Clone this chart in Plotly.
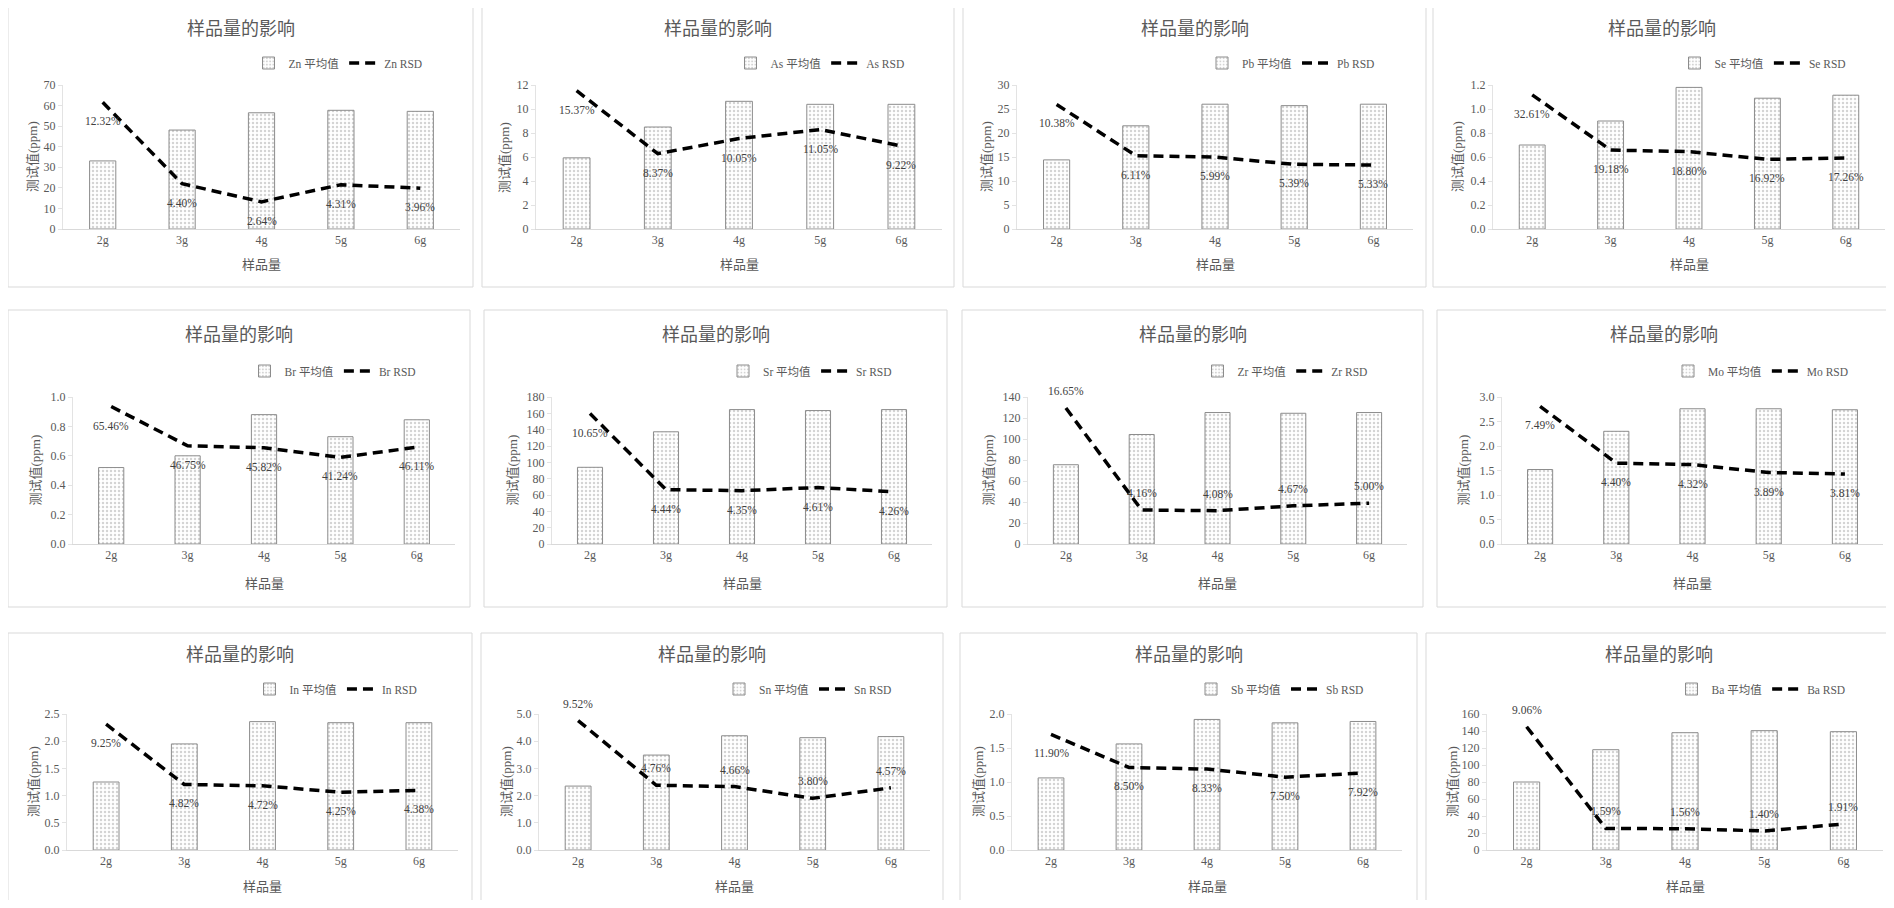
import plotly.graph_objects as go

# ---------------- data ----------------
categories = ["2g", "3g", "4g", "5g", "6g"]
elements = ["Zn", "As", "Pb", "Se", "Br", "Sr", "Zr", "Mo", "In", "Sn", "Sb", "Ba"]

mean_Zn = [33.1, 48.1, 56.5, 57.7, 57.2]
mean_As = [5.93, 8.50, 10.64, 10.39, 10.39]
mean_Pb = [14.4, 21.5, 26.0, 25.7, 26.0]
mean_Se = [0.70, 0.90, 1.18, 1.09, 1.115]
mean_Br = [0.52, 0.60, 0.88, 0.73, 0.845]
mean_Sr = [93.9, 137.4, 164.6, 163.4, 164.6]
mean_Zr = [75.5, 104.3, 125.2, 124.5, 125.2]
mean_Mo = [1.52, 2.30, 2.76, 2.76, 2.74]
mean_In = [1.25, 1.95, 2.36, 2.34, 2.34]
mean_Sn = [2.35, 3.49, 4.20, 4.13, 4.17]
mean_Sb = [1.06, 1.56, 1.92, 1.87, 1.89]
mean_Ba = [80.0, 118.0, 138.0, 140.4, 139.2]

rsd_Zn = [12.32, 4.40, 2.64, 4.31, 3.96]
rsd_As = [15.37, 8.37, 10.05, 11.05, 9.22]
rsd_Pb = [10.38, 6.11, 5.99, 5.39, 5.33]
rsd_Se = [32.61, 19.18, 18.80, 16.92, 17.26]
rsd_Br = [65.46, 46.75, 45.82, 41.24, 46.11]
rsd_Sr = [10.65, 4.44, 4.35, 4.61, 4.26]
rsd_Zr = [16.65, 4.16, 4.08, 4.67, 5.00]
rsd_Mo = [7.49, 4.40, 4.32, 3.89, 3.81]
rsd_In = [9.25, 4.82, 4.72, 4.25, 4.38]
rsd_Sn = [9.52, 4.76, 4.66, 3.80, 4.57]
rsd_Sb = [11.90, 8.50, 8.33, 7.50, 7.92]
rsd_Ba = [9.06, 1.59, 1.56, 1.40, 1.91]

means = [mean_Zn, mean_As, mean_Pb, mean_Se, mean_Br, mean_Sr,
         mean_Zr, mean_Mo, mean_In, mean_Sn, mean_Sb, mean_Ba]
rsds = [rsd_Zn, rsd_As, rsd_Pb, rsd_Se, rsd_Br, rsd_Sr,
        rsd_Zr, rsd_Mo, rsd_In, rsd_Sn, rsd_Sb, rsd_Ba]

# axis scales (primary axis max / tick step, hidden secondary axis max in %)
y_max = [70, 12, 30, 1.2, 1.0, 180, 140, 3.0, 2.5, 5.0, 2.0, 160]
y_dtick = [10, 2, 5, 0.2, 0.2, 20, 20, 0.5, 0.5, 1.0, 0.5, 20]
y_fmt = ["d", "d", "d", ".1f", ".1f", "d", "d", ".1f", ".1f", ".1f", ".1f", "d"]
rsd_axis_max = [14, 16, 12, 35, 70, 12, 18, 8, 10, 10, 14, 10]

title_text = "样品量的影响"
x_title = "样品量"
y_title = "测试值(ppm)"

# ---------------- layout geometry (reference pixels) ----------------
W, H = 1878, 892
OFF = 8


def px(x):
    return (x - OFF) / W


def py(y):
    return 1 - (y - OFF) / H


rows = [
    dict(top=7, bottom=287, title=27, legend=63, ptop=85, pbot=229, xlab=264),
    dict(top=310, bottom=607, title=333, legend=371, ptop=397, pbot=544, xlab=582),
    dict(top=633, bottom=930, title=653, legend=689, ptop=714, pbot=850, xlab=885),
]
borders = [(8, 473), (482, 954), (963, 1426), (1433, 1891),
           (8, 470), (484, 947), (962, 1423), (1437, 1891),
           (8, 472), (481, 943), (960, 1417), (1426, 1891)]
plots = [(63, 460), (536, 942), (1017, 1413), (1493, 1885),
         (73, 455), (552, 932), (1028, 1407), (1502, 1883),
         (67, 458), (539, 930), (1012, 1402), (1487, 1883)]
ytitle_x = [33, 505, 987, 1458, 35, 512, 988, 1463, 33, 506, 978, 1452]
labels_above = [False] * 12
for k in (6, 9, 11):
    labels_above[k] = True

GREY_TXT = "#595959"
SERIF = "Liberation Serif, Times New Roman, Noto Sans CJK SC, serif"
CJK = "Noto Sans CJK SC, sans-serif"

fig = go.Figure()
shapes = []
annotations = []
layout_axes = {}

for i, el in enumerate(elements):
    n = i + 1
    r = rows[i // 4]
    bl, br_ = borders[i]
    pl, pr = plots[i]
    xa = "x" if n == 1 else f"x{n}"
    ya = "y" if n == 1 else f"y{n}"
    ya2 = f"y{n + 12}"
    lg = "legend" if n == 1 else f"legend{n}"

    fig.add_trace(go.Bar(
        x=categories, y=means[i], name=f"{el} 平均值",
        xaxis=xa, yaxis=ya, legend=lg, width=0.33,
        marker=dict(color="white",
                    line=dict(color="#8c8c8c", width=1),
                    pattern=dict(shape=".", fgcolor="#a8a8a8", bgcolor="white",
                                 size=4, solidity=0.3)),
        hoverinfo="skip",
    ))
    fig.add_trace(go.Scatter(
        x=categories, y=[v / 100 for v in rsds[i]], name=f"{el} RSD",
        xaxis=xa, yaxis=ya2, legend=lg, mode="lines",
        line=dict(color="black", width=3.5, dash="10px,6px"),
        hoverinfo="skip",
    ))
    # data labels on the RSD line
    for c, v in zip(categories, rsds[i]):
        annotations.append(dict(
            text=f"{v:.2f}%", xref=xa, yref=ya2, x=c, y=v / 100,
            xanchor="center", yanchor="middle", showarrow=False,
            yshift=17 if labels_above[i] else -19,
            font=dict(family=SERIF, size=11.5, color="#404040")))

    xkey = "xaxis" if n == 1 else f"xaxis{n}"
    ykey = "yaxis" if n == 1 else f"yaxis{n}"
    layout_axes[xkey] = dict(
        domain=[px(pl), px(pr)], anchor=ya, type="category", automargin=False,
        range=[-0.5, 4.5], showline=True, linecolor="#d9d9d9", linewidth=1,
        ticks="", showgrid=False, zeroline=False,
        tickfont=dict(family=SERIF, size=12, color=GREY_TXT),
    )
    layout_axes[ykey] = dict(
        domain=[py(r["pbot"]), py(r["ptop"])], anchor=xa, automargin=False,
        range=[0, y_max[i]], dtick=y_dtick[i], tick0=0,
        tickformat=y_fmt[i], showline=True, linecolor="#e3e3e3", linewidth=1,
        ticks="outside", ticklen=4, tickcolor="#e3e3e3",
        showgrid=False, zeroline=False,
        tickfont=dict(family=SERIF, size=12, color=GREY_TXT),
    )
    layout_axes[f"yaxis{n + 12}"] = dict(
        overlaying=ya, anchor=xa, range=[0, rsd_axis_max[i] / 100],
        visible=False, showgrid=False, zeroline=False, automargin=False,
    )
    layout_axes[lg] = dict(
        orientation="h", x=px(pr - 122), y=py(r["legend"]),
        xanchor="center", yanchor="middle", bgcolor="rgba(0,0,0,0)",
        font=dict(family=SERIF, size=11.5, color=GREY_TXT),
        itemwidth=30, tracegroupgap=0,
    )

    shapes.append(dict(type="rect", xref="paper", yref="paper",
                       x0=px(bl), x1=px(br_), y0=py(r["bottom"]), y1=py(r["top"]),
                       line=dict(color="#d9d9d9", width=1), fillcolor="rgba(0,0,0,0)",
                       layer="below"))
    annotations.append(dict(text=title_text, xref="paper", yref="paper",
                            x=px((bl + br_) / 2), y=py(r["title"]),
                            xanchor="center", yanchor="middle", showarrow=False,
                            font=dict(family=CJK, size=18, color=GREY_TXT)))
    annotations.append(dict(text=x_title, xref="paper", yref="paper",
                            x=px((pl + pr) / 2), y=py(r["xlab"]),
                            xanchor="center", yanchor="middle", showarrow=False,
                            font=dict(family=CJK, size=13, color=GREY_TXT)))
    annotations.append(dict(text=y_title, xref="paper", yref="paper",
                            x=px(ytitle_x[i]), y=py((r["ptop"] + r["pbot"]) / 2),
                            xanchor="center", yanchor="middle", showarrow=False,
                            textangle=-90,
                            font=dict(family=SERIF, size=13, color=GREY_TXT)))

fig.update_layout(
    width=W, height=H, autosize=False,
    margin=dict(l=0, r=0, t=0, b=0, autoexpand=False),
    paper_bgcolor="white", plot_bgcolor="white",
    showlegend=True, shapes=shapes, annotations=annotations,
    **layout_axes,
)

fig.write_html("out.html")
